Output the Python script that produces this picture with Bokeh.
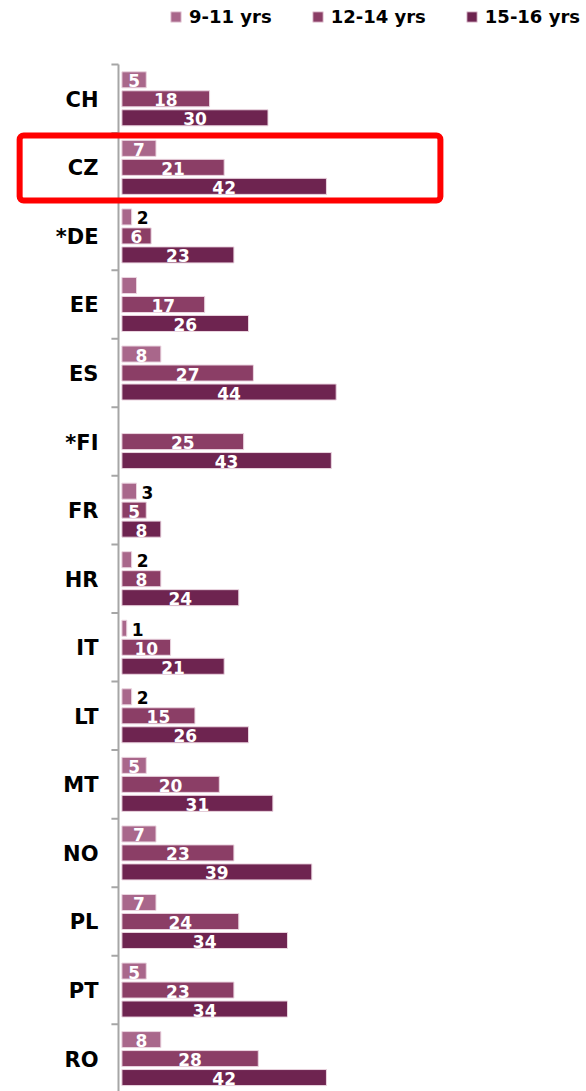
import math
from bokeh.plotting import figure
from bokeh.models import Range1d, Legend, LegendItem, BoxAnnotation, ColumnDataSource
from bokeh.core.properties import value
from bokeh.embed import file_html
from bokeh.resources import INLINE

# ---- data ----
countries = ["CH", "CZ", "*DE", "EE", "ES", "*FI", "FR", "HR", "IT", "LT", "MT", "NO", "PL", "PT", "RO"]
age_9_11 = [5, 7, 2, 3, 8, float("nan"), 3, 2, 1, 2, 5, 7, 7, 5, 8]
age_12_14 = [18, 21, 6, 17, 27, 25, 5, 8, 10, 15, 20, 23, 24, 23, 28]
age_15_16 = [30, 42, 23, 26, 44, 43, 8, 24, 21, 26, 31, 39, 34, 34, 42]
# labels shown for the 9-11 series (EE and FI are unlabeled in the source)
label_9_11 = ["5", "7", "2", "", "8", "", "3", "2", "1", "2", "5", "7", "7", "5", "8"]
series_names = ["9-11 yrs", "12-14 yrs", "15-16 yrs"]
highlight = "CZ"

colors = ["#A9678B", "#8B3E66", "#6E2450"]
AXIS_GRAY = "#A6A6A6"
FONT = "DejaVu Sans"

n = len(countries)
# the plot frame fills the whole canvas so the legend and the highlight frame can sit
# outside the bar area; the category axis is drawn with glyphs on the same scales
p = figure(width=586, height=1091, output_backend="svg", toolbar_location=None,
           x_range=Range1d(-24.93, 95.4), y_range=Range1d(14.98, -0.934),
           min_border_left=0, min_border_top=0, min_border_right=0, min_border_bottom=0)
p.xaxis.visible = False
p.yaxis.visible = False
p.xgrid.visible = False
p.ygrid.visible = False
p.outline_line_color = None
p.background_fill_color = "white"

offsets = [-0.277, 0.0, 0.277]
bar_h = 0.234
series = [age_9_11, age_12_14, age_15_16]
renderers = []
for k, vals in enumerate(series):
    ys = [i + 0.5 + offsets[k] for i in range(n)]
    src = ColumnDataSource(dict(y=ys, right=vals))
    r = p.hbar(y="y", left=0, right="right", height=bar_h, source=src,
               fill_color=colors[k], line_color="#EBD5E0", line_width=1)
    renderers.append(r)

    labs = label_9_11 if k == 0 else [str(v) for v in vals]
    wx, wy, wt, bx, by, bt = [], [], [], [], [], []
    for i, (v, lab) in enumerate(zip(vals, labs)):
        if lab == "" or (isinstance(v, float) and math.isnan(v)):
            continue
        if v >= 5:
            wx.append(v / 2); wy.append(ys[i]); wt.append(lab)
        else:
            bx.append(v); by.append(ys[i]); bt.append(lab)
    p.text(x=wx, y=wy, text=wt, text_color="white", text_align="center",
           text_baseline="middle", text_font=value(FONT), text_font_style="bold",
           text_font_size="17px", y_offset=1)
    if bx:
        p.text(x=bx, y=by, text=bt, text_color="black", text_align="left",
               text_baseline="middle", text_font=value(FONT), text_font_style="bold",
               text_font_size="17px", x_offset=5, y_offset=1)

# category axis: line just left of the bars' base, ticks at group boundaries,
# names centred on each group
axis_x = -0.7
bounds = list(range(n + 1))
p.segment(x0=[axis_x], y0=[0], x1=[axis_x], y1=[n], line_color=AXIS_GRAY, line_width=2)
p.segment(x0=[axis_x] * len(bounds), y0=bounds, x1=[axis_x - 1.45] * len(bounds), y1=bounds,
          line_color=AXIS_GRAY, line_width=2)
p.text(x=[axis_x] * n, y=[i + 0.5 for i in range(n)], text=countries,
       text_align="right", text_baseline="middle", x_offset=-20, y_offset=1,
       text_font=value(FONT), text_font_style="bold", text_font_size="21px",
       text_color="black")

# highlight frame around CZ
hi = countries.index(highlight)
box = BoxAnnotation(left=-21.0, right=65.4, top=hi + 0.036, bottom=hi + 0.984,
                    fill_alpha=0, line_color="#FF0000", line_alpha=1.0, line_width=6,
                    border_radius=4)
p.add_layout(box)

legend = Legend(items=[LegendItem(label=nm, renderers=[r]) for nm, r in zip(series_names, renderers)],
                orientation="horizontal", location="top_right",
                glyph_width=13, glyph_height=13, label_standoff=7, spacing=39,
                label_text_font=FONT, label_text_font_style="bold", label_text_font_size="18px",
                label_text_color="black",
                label_height=16, padding=0, margin=6, border_line_color=None,
                background_fill_alpha=0)
p.add_layout(legend)

open("out.html", "w").write(file_html(p, INLINE))
